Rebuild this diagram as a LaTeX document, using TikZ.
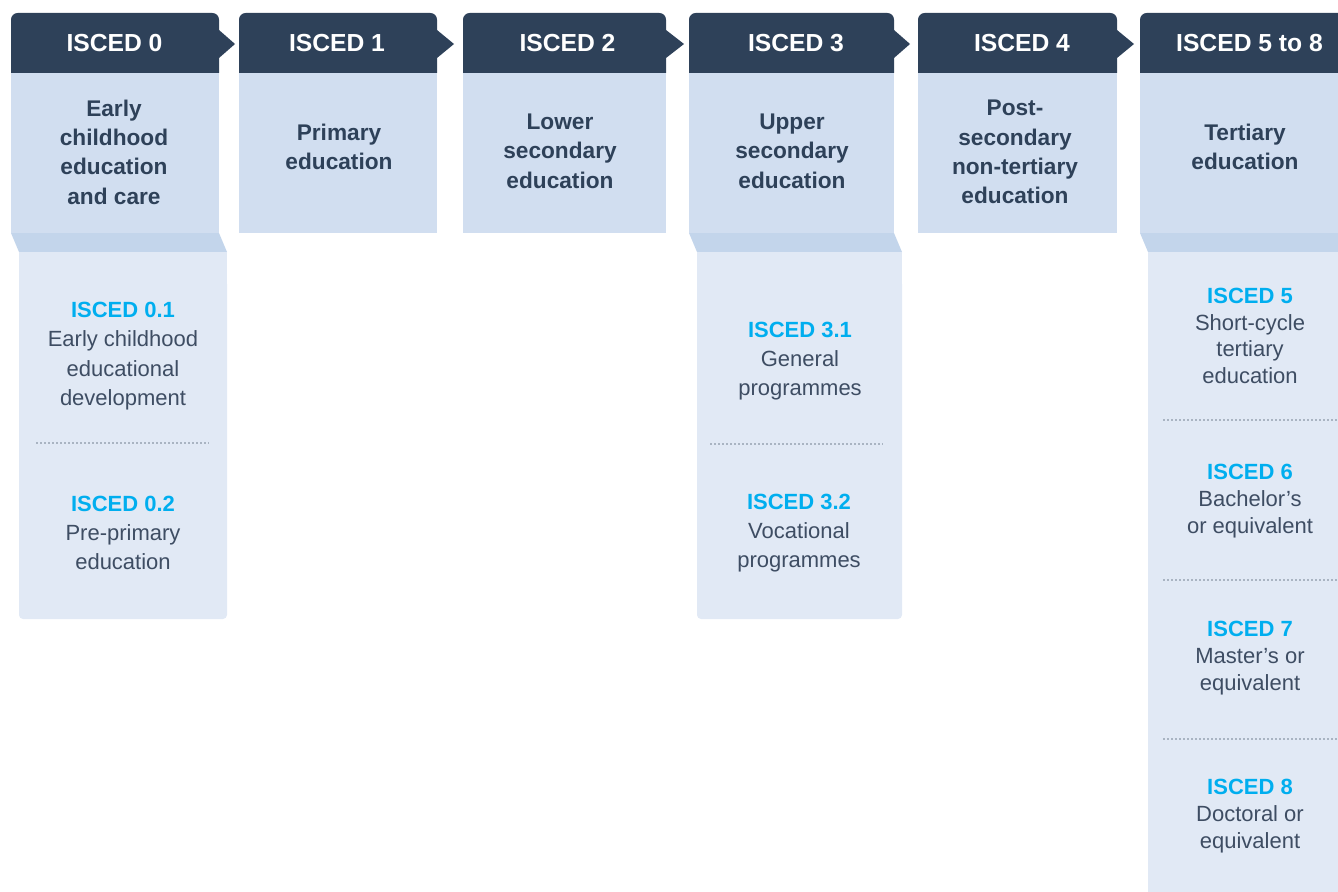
\documentclass[tikz,border=0pt]{standalone}
\usepackage{fontspec}
\setmainfont{Liberation Sans}
\usetikzlibrary{positioning}

\definecolor{navy}{HTML}{2E4159}
\definecolor{bodyblue}{HTML}{D1DEF0}
\definecolor{foldblue}{HTML}{C3D5EB}
\definecolor{lowblue}{HTML}{E1E9F5}
\definecolor{isccyan}{HTML}{00AEEF}
\definecolor{slate}{HTML}{3E4D63}
\definecolor{dotgray}{HTML}{A9B4C2}

\newcommand{\iscode}[1]{\textcolor{isccyan}{\bfseries #1}}

\begin{document}
\begin{tikzpicture}[x=0.75pt,y=-0.75pt,
      tabtop/.style = {fill=navy, rounded corners=5pt},
      tab/.style = {fill=navy},
      panel/.style = {fill=bodyblue},
      fold/.style = {fill=foldblue},
      lower/.style = {fill=lowblue},
      lowerend/.style = {fill=lowblue, rounded corners=3pt},
      divider/.style = {draw=dotgray, line width=0.8pt, dash pattern=on 1.5pt off 1.5pt},
      hdrtxt/.style = {text=white, font=\fontsize{18.5}{22}\selectfont\bfseries},
      lvl/.style = {text=navy, align=center, font=\fontsize{17}{22}\selectfont\bfseries},
      sub/.style = {text=slate, align=center, font=\fontsize{16.5}{22}\selectfont},
      subtight/.style = {sub, font=\fontsize{16.5}{20}\selectfont}
      ]
      \useasboundingbox (0,0) rectangle (1338,892);
      \clip (0,0) rectangle (1338,892);

      % ISCED 0
      \fill[tabtop] (11,13) rectangle (219,45);
      \fill[tab] (11,35) rectangle (219,73) (219,30) -- (235,44) -- (219,58) -- cycle;
      \fill[panel] (11,73) rectangle (219,233);
      \fill[fold] (11,233) -- (219,233) -- (227,252) -- (19,252) -- cycle;
      \fill[lower] (19,252) rectangle (227,300);
      \fill[lowerend] (19,280) rectangle (227,619);
      \draw[divider] (36,443) -- (209,443);

      % ISCED 1
      \fill[tabtop] (239,13) rectangle (437,45);
      \fill[tab] (239,35) rectangle (437,73) (437,30) -- (454,44) -- (437,58) -- cycle;
      \fill[panel] (239,73) rectangle (437,233);

      % ISCED 2
      \fill[tabtop] (463,13) rectangle (666,45);
      \fill[tab] (463,35) rectangle (666,73) (666,30) -- (684,44) -- (666,58) -- cycle;
      \fill[panel] (463,73) rectangle (666,233);

      % ISCED 3
      \fill[tabtop] (689,13) rectangle (894,45);
      \fill[tab] (689,35) rectangle (894,73) (894,30) -- (910,44) -- (894,58) -- cycle;
      \fill[panel] (689,73) rectangle (894,233);
      \fill[fold] (689,233) -- (894,233) -- (902,252) -- (697,252) -- cycle;
      \fill[lower] (697,252) rectangle (902,300);
      \fill[lowerend] (697,280) rectangle (902,619);
      \draw[divider] (710,444) -- (883,444);

      % ISCED 4
      \fill[tabtop] (918,13) rectangle (1117,45);
      \fill[tab] (918,35) rectangle (1117,73) (1117,30) -- (1134,44) -- (1117,58) -- cycle;
      \fill[panel] (918,73) rectangle (1117,233);

      % ISCED 5 to 8
      \fill[tabtop] (1140,13) rectangle (1360,45);
      \fill[tab] (1140,35) rectangle (1360,73);
      \fill[panel] (1140,73) rectangle (1360,233);
      \fill[fold] (1140,233) -- (1360,233) -- (1360,252) -- (1148,252) -- cycle;
      \fill[lower] (1148,252) rectangle (1360,900);
      \draw[divider] (1163,420) -- (1345,420);
      \draw[divider] (1163,580) -- (1345,580);
      \draw[divider] (1163,739) -- (1345,739);

      % tab labels
      \node[hdrtxt] (h0) at (114.5,43) {ISCED 0};
      \node[hdrtxt] (h1) at (337,43) {ISCED 1};
      \node[hdrtxt] (h2) at (567.5,43) {ISCED 2};
      \node[hdrtxt] (h3) at (796,43) {ISCED 3};
      \node[hdrtxt] (h4) at (1022,43) {ISCED 4};
      \node[hdrtxt] (h5) at (1249.5,43) {ISCED 5 to 8};

      % level names
      \node[lvl] (l0) at (114,152) {Early\\childhood\\education\\and care};
      \node[lvl] (l1) at (339,147) {Primary\\education};
      \node[lvl] (l2) at (560,151) {Lower\\secondary\\education};
      \node[lvl] (l3) at (792,151) {Upper\\secondary\\education};
      \node[lvl] (l4) at (1015,152) {Post-\\secondary\\non-tertiary\\education};
      \node[lvl] (l5) at (1245,147) {Tertiary\\education};

      % sub-levels
      \node[sub] (s01) at (123,356) {\iscode{ISCED 0.1}\\Early childhood\\educational\\development};
      \node[sub] (s02) at (123,533) {\iscode{ISCED 0.2}\\Pre-primary\\education};
      \node[sub] (s31) at (800,361) {\iscode{ISCED 3.1}\\General\\programmes};
      \node[sub] (s32) at (799,533) {\iscode{ISCED 3.2}\\Vocational\\programmes};
      \node[subtight] (s5) at (1250,336) {\iscode{ISCED 5}\\Short-cycle\\tertiary\\education};
      \node[subtight] (s6) at (1250,501) {\iscode{ISCED 6}\\Bachelor’s\\or equivalent};
      \node[subtight] (s7) at (1250,658) {\iscode{ISCED 7}\\Master’s or\\equivalent};
      \node[subtight] (s8) at (1250,816) {\iscode{ISCED 8}\\Doctoral or\\equivalent};
    \end{tikzpicture}
\end{document}
